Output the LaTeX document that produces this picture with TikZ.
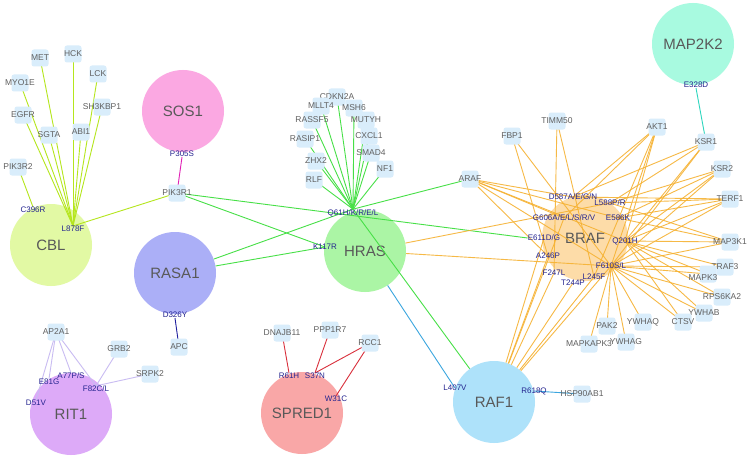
\documentclass[tikz,border=0pt]{standalone}
\usepackage{fontspec}
\setmainfont{Liberation Sans}
\pgfdeclarelayer{bg}
\pgfdeclarelayer{circ}
\pgfdeclarelayer{edges}
\pgfsetlayers{bg,circ,edges,main}
\definecolor{boxblue}{HTML}{D9EDFB}
\definecolor{txtgray}{HTML}{606060}
\definecolor{labgray}{HTML}{595959}
\definecolor{mutblue}{HTML}{24248F}
\definecolor{cSOS}{HTML}{FBA8E2}
\definecolor{cCBL}{HTML}{E2F9A4}
\definecolor{cRASA}{HTML}{ABAFF7}
\definecolor{cHRAS}{HTML}{ABF5A5}
\definecolor{cBRAF}{HTML}{FDDCA8}
\definecolor{cMAP}{HTML}{A8FAE0}
\definecolor{cRAF}{HTML}{AEE2FA}
\definecolor{cSPRED}{HTML}{F9A7A7}
\definecolor{cRIT}{HTML}{DDAAF8}
\definecolor{eLime}{HTML}{B5E61D}
\definecolor{eMag}{HTML}{E01EB4}
\definecolor{eGreen}{HTML}{47E047}
\definecolor{eBlue}{HTML}{3BA6DF}
\definecolor{eTurq}{HTML}{2ED6BE}
\definecolor{eNavy}{HTML}{1E1E9E}
\definecolor{eRed}{HTML}{D9303C}
\definecolor{eLav}{HTML}{C9BCF2}
\definecolor{eOrange}{HTML}{F6B232}
\newcommand\pbx[3]{\node[pbox] (#1) at (#2) {}; \node[ptxt] at (#2) {#3};}
\begin{document}
\begin{tikzpicture}[x=1pt,y=-1pt,
  hub/.style={circle, minimum size=82pt, inner sep=0pt, text=labgray, font=\fontsize{15}{15}\selectfont},
  pbox/.style={rectangle, rounded corners=2.5pt, fill=boxblue, minimum size=17pt, inner sep=0pt},
  ptxt/.style={inner sep=0pt, text=txtgray, font=\fontsize{8.5}{9}\selectfont},
  mut/.style={inner sep=0pt, text=mutblue, font=\fontsize{8}{9}\selectfont},
  edge/.style={line width=0.9pt},
  oedge/.style={line width=0.9pt, draw=eOrange, draw opacity=0.9},
]
\useasboundingbox (0,0) rectangle (750,460);
\begin{pgfonlayer}{bg}
\fill[white] (0,0) rectangle (750,460);
\end{pgfonlayer}
% ---------- hub circles ----------
\begin{pgfonlayer}{circ}
\node[hub, fill=cSOS] (sos1) at (183,111) {SOS1};
\node[hub, fill=cCBL] (cbl) at (51,245) {CBL};
\node[hub, fill=cRASA] (rasa1) at (175,273) {RASA1};
\node[hub, fill=cHRAS] (hras) at (365,251) {HRAS};
\node[hub, fill=cBRAF, minimum size=86pt] (braf) at (585,238) {BRAF};
\node[hub, fill=cMAP] (map2k2) at (693,44) {MAP2K2};
\node[hub, fill=cRAF] (raf1) at (494,402) {RAF1};
\node[hub, fill=cSPRED] (spred1) at (302,413) {SPRED1};
\node[hub, fill=cRIT] (rit1) at (71,414) {RIT1};
\end{pgfonlayer}
% ---------- partner boxes ----------
\pbx{met}{40,58}{MET}
\pbx{hck}{73,54}{HCK}
\pbx{lck}{98,74}{LCK}
\pbx{myo1e}{20,83}{MYO1E}
\pbx{sh3kbp1}{102,107}{SH3KBP1}
\pbx{egfr}{23,115}{EGFR}
\pbx{sgta}{49,135}{SGTA}
\pbx{abi1}{81,132}{ABI1}
\pbx{pik3r2}{18,167}{PIK3R2}
\pbx{pik3r1}{177,193}{PIK3R1}
\pbx{cdkn2a}{337,97}{CDKN2A}
\pbx{mllt4}{321,106}{MLLT4}
\pbx{msh6}{354,108}{MSH6}
\pbx{rassf5}{312,120}{RASSF5}
\pbx{mutyh}{366,120}{MUTYH}
\pbx{rasip1}{305,139}{RASIP1}
\pbx{cxcl1}{369,136}{CXCL1}
\pbx{zhx2}{316,161}{ZHX2}
\pbx{smad4}{371,153}{SMAD4}
\pbx{nf1}{385,169}{NF1}
\pbx{rlf}{314,180}{RLF}
\pbx{araf}{470,179}{ARAF}
\pbx{fbp1}{512,136}{FBP1}
\pbx{timm50}{557,121}{TIMM50}
\pbx{akt1}{657,127}{AKT1}
\pbx{ksr1}{706,142}{KSR1}
\pbx{ksr2}{722,169}{KSR2}
\pbx{terf1}{730,199}{TERF1}
\pbx{map3k1}{730,242}{MAP3K1}
\pbx{traf3}{725,267}{TRAF3}
\node[pbox] (mapk3) at (708,274) {}; \node[ptxt] at (703,278) {MAPK3};
\pbx{rps6ka2}{722,297}{RPS6KA2}
\pbx{ywhab}{704,313}{YWHAB}
\pbx{ctsv}{683,322}{CTSV}
\pbx{ywhaq}{643,322}{YWHAQ}
\pbx{pak2}{607,326}{PAK2}
\pbx{ywhag}{626,342}{YWHAG}
\pbx{mapkapk3}{589,344}{MAPKAPK3}
\pbx{hsp90ab1}{582,394}{HSP90AB1}
\pbx{ap2a1}{56,332}{AP2A1}
\pbx{grb2}{119,349}{GRB2}
\pbx{srpk2}{150,374}{SRPK2}
\pbx{apc}{179,347}{APC}
\pbx{dnajb11}{282,333}{DNAJB11}
\pbx{ppp1r7}{330,330}{PPP1R7}
\pbx{rcc1}{370,343}{RCC1}
% ---------- mutation labels ----------
\node[mut] (mP305S) at (182,154) {P305S};
\node[mut] (mC396R) at (33,210) {C396R};
\node[mut] (mL878F) at (73,229) {L878F};
\node[mut] (mQ61) at (353,213) {Q61H/K/R/E/L};
\node[mut] (mK117R) at (325,247) {K117R};
\node[mut] (mD326Y) at (175,315) {D326Y};
\node[mut] (mE328D) at (696,85) {E328D};
\node[mut] (mD587) at (573,197) {D587A/E/G/N};
\node[mut] (mL588) at (610,203) {L588P/R};
\node[mut] (mG606) at (564,218) {G606A/E/L/S/R/V};
\node[mut] (mE586K) at (618,218) {E586K};
\node[mut] (mE611) at (544,238) {E611D/G};
\node[mut] (mQ201H) at (625,241) {Q201H};
\node[mut] (mA246P) at (548,256) {A246P};
\node[mut] (mF610) at (611,266) {F610S/L};
\node[mut] (mF247L) at (554,273) {F247L};
\node[mut] (mT244P) at (573,283) {T244P};
\node[mut] (mL245F) at (594,277) {L245F};
\node[mut] (mR618Q) at (534,391) {R618Q};
\node[mut] (mL407V) at (455,388) {L407V};
\node[mut] (mA77P) at (71,376) {A77P/S};
\node[mut] (mE81G) at (49,382) {E81G};
\node[mut] (mF82C) at (96,389) {F82C/L};
\node[mut] (mD51V) at (36,403) {D51V};
\node[mut] (mR61H) at (289,376) {R61H};
\node[mut] (mS37N) at (315,376) {S37N};
\node[mut] (mW31C) at (336,399) {W31C};
% ---------- edges ----------
\begin{pgfonlayer}{edges}
% CBL
\foreach \p in {met,hck,lck,myo1e,sh3kbp1,egfr,sgta,abi1,pik3r1}
  \draw[edge, eLime] (\p.center) -- (mL878F.north);
\draw[edge, eLime] (pik3r2.center) -- (mC396R.north);
% SOS1
\draw[edge, eMag] (mP305S.south) -- (pik3r1.center);
% HRAS
\foreach \p in {cdkn2a,mllt4,msh6,rassf5,mutyh,rasip1,cxcl1,zhx2,smad4,nf1,rlf}
  \draw[edge, eGreen] (\p.center) -- (mQ61.north);
\draw[edge, eGreen] (pik3r1.center) -- (mE611.west);
\draw[edge, eGreen] (pik3r1.center) -- (mK117R.center);
\draw[edge, eGreen] (rasa1) -- (mQ61.north);
\draw[edge, eGreen] (rasa1) -- (mK117R.center);
\draw[edge, eGreen] (mQ61.north) -- (araf.center);
\draw[edge, eGreen] (mQ61.north) -- (raf1);
% RAF1 / HRAS
\draw[edge, eBlue] (hras) -- (mL407V.center);
\draw[edge, eBlue] (mR618Q.center) -- (hsp90ab1.center);
% MAP2K2
\draw[edge, eTurq] (mE328D.south) -- (ksr1.center);
% RASA1
\draw[edge, eNavy] (mD326Y.south) -- (apc.center);
% SPRED1
\draw[edge, eRed] (dnajb11.center) -- (mR61H.north);
\draw[edge, eRed] (ppp1r7.center) -- (mS37N.north);
\draw[edge, eRed] (rcc1.center) -- (mS37N.north);
\draw[edge, eRed] (rcc1.center) -- (mW31C.north);
% RIT1
\foreach \m in {mD51V,mE81G,mA77P,mF82C}
  \draw[edge, eLav] (ap2a1.center) -- (\m.north);
\draw[edge, eLav] (grb2.center) -- (mF82C.north);
\draw[edge, eLav] (srpk2.center) -- (mF82C.north);
% BRAF
\draw[oedge] (hras) -- (mL588.center);
\draw[oedge] (hras) -- (mF610.center);
\foreach \m in {mG606,mD587,mE586K,mQ201H,mF610,mA246P}
  \draw[oedge] (araf.center) -- (\m.center);
\foreach \m in {mA246P,mF610}
  \draw[oedge] (fbp1.center) -- (\m.center);
\foreach \m in {mF247L,mL245F}
  \draw[oedge] (timm50.center) -- (\m.center);
\foreach \m in {mD587,mG606,mQ201H,mF610,mL245F}
  \draw[oedge] (akt1.center) -- (\m.center);
\foreach \m in {mD587,mL588,mQ201H,mF610}
  \draw[oedge] (ksr1.center) -- (\m.center);
\foreach \m in {mL588,mE586K,mQ201H,mF610}
  \draw[oedge] (ksr2.center) -- (\m.center);
\foreach \m in {mD587,mL588,mE586K,mQ201H,mF610}
  \draw[oedge] (terf1.center) -- (\m.center);
\foreach \m in {mL588,mE586K,mQ201H,mF610}
  \draw[oedge] (map3k1.center) -- (\m.center);
\foreach \p in {traf3,mapk3,rps6ka2,ywhab,ctsv}
  {\draw[oedge] (\p.center) -- (mQ201H.center);
   \draw[oedge] (\p.center) -- (mF610.center);}
\foreach \p in {ywhaq,pak2,ywhag,mapkapk3}
  \draw[oedge] (\p.center) -- (mF610.center);
\foreach \m in {mA246P,mF247L,mT244P,mL245F,mF610,mE611,mG606}
  \draw[oedge] (raf1) -- (\m.center);
\end{pgfonlayer}
\end{tikzpicture}
\end{document}
